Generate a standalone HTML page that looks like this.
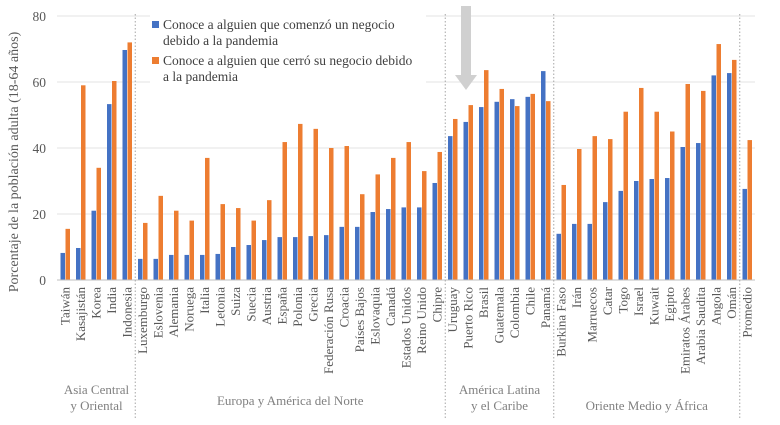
<!DOCTYPE html>
<html><head><meta charset="utf-8"><style>
body{margin:0;background:#fff}
svg{font-family:"Liberation Serif",serif}
</style></head><body>
<svg id="c" width="780" height="420" viewBox="0 0 780 420"></svg>
<script>
const categories=["Taiwán","Kasajistán","Korea","India","Indonesia","Luxemburgo","Eslovenia","Alemania","Noruega","Italia","Letonia","Suiza","Suecia","Austria","España","Polonia","Grecia","Federación Rusa","Croacia","Países Bajos","Eslovaquia","Canadá","Estados Unidos","Reino Unido","Chipre","Uruguay","Puerto Rico","Brasil","Guatemala","Colombia","Chile","Panamá","Burkina Faso","Irán","Marruecos","Catar","Togo","Israel","Kuwait","Egipto","Emiratos Árabes","Arabia Saudita","Angola","Omán","Promedio"];
const started=[8.2,9.7,21,53.3,69.7,6.4,6.4,7.6,7.6,7.6,7.9,10,10.6,12.1,13,13,13.3,13.6,16.1,16.1,20.6,21.5,22,22,29.4,43.6,47.9,52.4,54,54.8,55.5,63.3,14,17,17,23.6,27,30,30.6,30.9,40.3,41.5,62,62.7,27.6];
const closed=[15.5,59,34,60.3,72,17.3,25.5,21,18,37,23,21.8,18,24.2,41.8,47.3,45.8,40,40.6,26,32,37,41.8,33,38.8,48.8,53,63.6,57.9,52.7,56.4,54.2,28.8,39.7,43.6,42.7,51,58.2,51,45,59.4,57.3,71.5,66.7,42.4];
const yTicks=[0,20,40,60,80];
const groups=[{name:["Asia Central","y Oriental"],from:0,to:4},{name:["Europa y América del Norte"],from:5,to:24},{name:["América Latina","y el Caribe"],from:25,to:31},{name:["Oriente Medio y África"],from:32,to:43}];
const NS="http://www.w3.org/2000/svg",svg=document.getElementById('c');
function el(t,a,p){const e=document.createElementNS(NS,t);for(const k in a)e.setAttribute(k,a[k]);(p||svg).appendChild(e);return e;}
const y=v=>280-v*3.3, x=i=>65.5+i*15.5;
yTicks.forEach(t=>{
 if(t>0){const g=el('line',{x1:57,x2:755,y1:y(t),y2:y(t),stroke:'#e3e3e3'});}
 const l=el('text',{x:46,y:y(t)+5,'text-anchor':'end','font-size':13.5,fill:'#595959'});l.textContent=t;
 
});
categories.forEach((c,i)=>{
 const b=el('rect',{x:x(i)-5,y:y(started[i]),width:4.5,height:started[i]*3.3,fill:'#4472C4'});
 
 const o=el('rect',{x:x(i),y:y(closed[i]),width:4.5,height:closed[i]*3.3,fill:'#ED7D31'});
 
 const t=el('text',{transform:`translate(${x(i)+4},287) rotate(-90)`,'text-anchor':'end','font-size':13,fill:'#595959'});t.textContent=c;
 
});
const ax=el('line',{x1:57,x2:755,y1:280,y2:280,stroke:'#bfbfbf'});

[[4,5],[24,25],[31,32],[43,44]].forEach(p=>{const xx=(x(p[0])+x(p[1]))/2;
 const d=el('line',{x1:xx,x2:xx,y1:14,y2:418,stroke:'#a6a6a6','stroke-dasharray':'1.5,2'});
 });
groups.forEach(g=>{const cx=(x(g.from)+x(g.to))/2;const n=g.name.length;
 g.name.forEach((s,k)=>{const t=el('text',{x:cx,y:(n==1?(g.from==5?405:410):394+k*16),'text-anchor':'middle','font-size':13,fill:'#808080'});t.textContent=s;
 });});
const yt=el('text',{transform:'translate(18,162) rotate(-90)','text-anchor':'middle','font-size':14,fill:'#595959'});
yt.textContent='Porcentaje de la población adulta (18-64 años)';

</script>
<svg style="position:absolute;left:0;top:0" width="780" height="420">
<g font-family="Liberation Serif,serif" font-size="13.5" fill="#404040">
<rect x="150" y="12" width="276" height="75" fill="#fff"/>
<rect x="152" y="21" width="7" height="7" fill="#4472C4"/>
<text x="163" y="29">Conoce a alguien que comenzó un negocio</text>
<text x="163" y="45">debido a la pandemia</text>
<rect x="152" y="57" width="7" height="7" fill="#ED7D31"/>
<text x="163" y="65">Conoce a alguien que cerró su negocio debido</text>
<text x="163" y="81">a la pandemia</text>
</g>
<g fill="#d0d0d0">
<rect x="461" y="6" width="10" height="70"/>
<polygon points="455,75 477,75 466,90"/>
</g>
</svg>
</body></html>
